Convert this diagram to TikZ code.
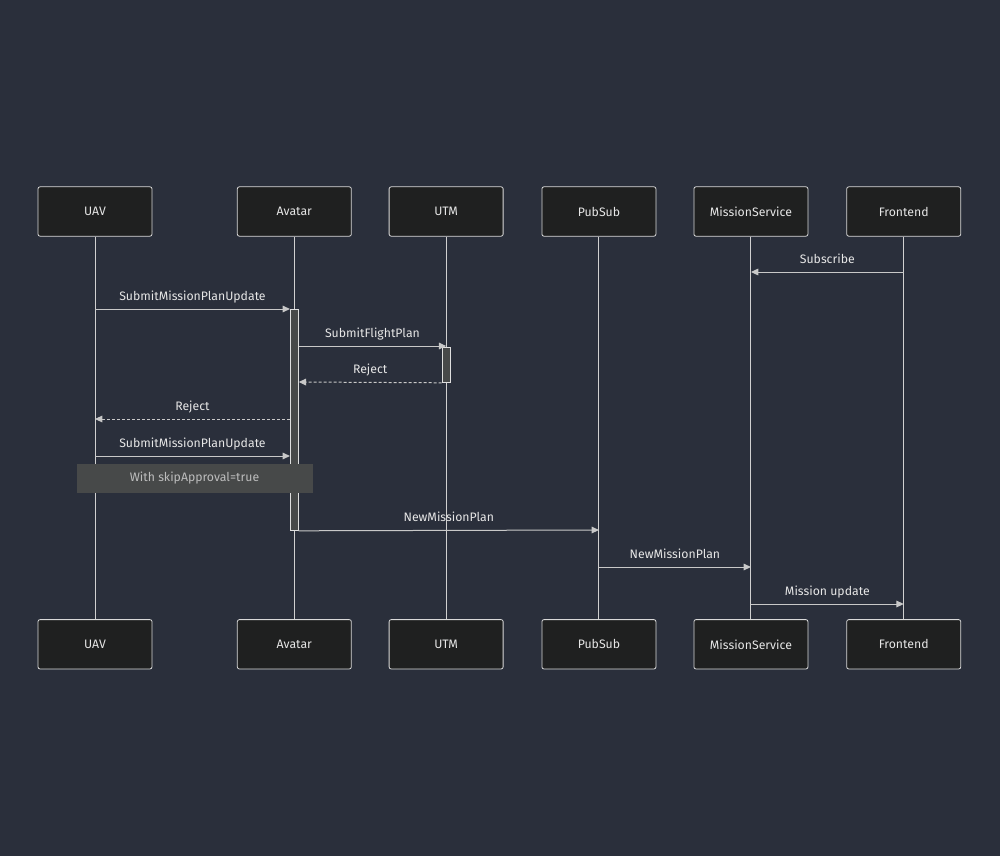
\documentclass[tikz,border=0pt]{standalone}
\usepackage{fontspec}
\setmainfont{Fira Sans}
\usetikzlibrary{arrows.meta, positioning}
\definecolor{bgcol}{HTML}{2A2F3B}
\definecolor{boxcol}{HTML}{1F2020}
\definecolor{linecol}{HTML}{C8C8C8}
\definecolor{textcol}{HTML}{E6E6E6}
\definecolor{actcol}{HTML}{474949}
\definecolor{notetext}{HTML}{BDBDBD}
\begin{document}
\begin{tikzpicture}[x=0.75pt, y=-0.75pt, >={Triangle[length=5.5pt,width=5pt]},
    font=\fontsize{9.2}{11}\selectfont, node distance=28.5pt]
\tikzset{
    actor/.style={draw=linecol!70, fill=boxcol, rounded corners=1.5pt, line width=0.6pt,
      minimum width=85.5pt, minimum height=37pt, text=textcol, inner sep=0pt},
    life/.style={draw=linecol!85, line width=0.75pt},
    msg/.style={draw=linecol, line width=0.75pt, ->},
    reply/.style={msg, dash pattern=on 2.25pt off 1.5pt},
    lbl/.style={midway, anchor=base, yshift=6.5pt, text=textcol, inner sep=0pt},
    act/.style={draw=linecol!60, fill=actcol, line width=0.6pt, minimum width=6pt, inner sep=0pt},
    note/.style={fill=actcol, draw=actcol, minimum width=176pt, minimum height=21pt,
      text=notetext, inner sep=0pt},
  }
% background
\fill[bgcol] (0,0) rectangle (1000,856);
\useasboundingbox (0,0) rectangle (1000,856);
% participants
\node (uav) [actor] at (95,211.5) {UAV};
\node (avatar) [actor, right=63.4pt of uav] {Avatar};
\node (utm) [actor, right=27.75pt of avatar] {UTM};
\node (pubsub) [actor, right=of utm] {PubSub};
\node (service) [actor, right=27.9pt of pubsub] {MissionService};
\node (frontend) [actor, right=of service] {Frontend};
\node (uavB) [actor, below=287pt of uav] {UAV};
\node (avatarB) [actor, below=287pt of avatar] {Avatar};
\node (utmB) [actor, below=287pt of utm] {UTM};
\node (pubsubB) [actor, below=287pt of pubsub] {PubSub};
\node (serviceB) [actor, below=287pt of service] {MissionService};
\node (frontendB) [actor, below=287pt of frontend] {Frontend};
% lifelines
\draw[life] (uav) -- (uavB);
\draw[life] (avatar) -- (avatarB);
\draw[life] (utm) -- (utmB);
\draw[life] (pubsub) -- (pubsubB);
\draw[life] (service) -- (serviceB);
\draw[life] (frontend) -- (frontendB);
% activations
\node (avatarAct) [act, minimum height=165.75pt, anchor=north] at (avatar.south |- 0,309) {};
\node (utmAct) [act, minimum height=26.25pt, anchor=north] at (utm.south |- 0,347) {};
% messages
\draw[msg] (frontend.south |- 0,272) -- (service.south |- 0,272) node[lbl] {Subscribe};
\draw[msg] (uav.south |- 0,309) -- (avatarAct.north west) node[lbl] {SubmitMissionPlanUpdate};
\draw[msg] (avatarAct.east |- 0,346) -- (utm.south |- 0,346) node[lbl] {SubmitFlightPlan};
\draw[reply] (utmAct.south west) -- (avatarAct.east |- 0,382) node[lbl] {Reject};
\draw[reply] (avatarAct.west |- 0,419) -- (uav.south |- 0,419) node[lbl] {Reject};
\draw[msg] (uav.south |- 0,456) -- (avatarAct.west |- 0,456) node[lbl] {SubmitMissionPlanUpdate};
\node (skip) [note] at (194.5,478) {With skipApproval=true};
\draw[msg] (avatarAct.south east) -- (pubsub.south |- 0,530) node[lbl] {NewMissionPlan};
\draw[msg] (pubsub.south |- 0,567) -- (service.south |- 0,567) node[lbl] {NewMissionPlan};
\draw[msg] (service.south |- 0,604) -- (frontend.south |- 0,604) node[lbl] {Mission update};
\end{tikzpicture}
\end{document}
